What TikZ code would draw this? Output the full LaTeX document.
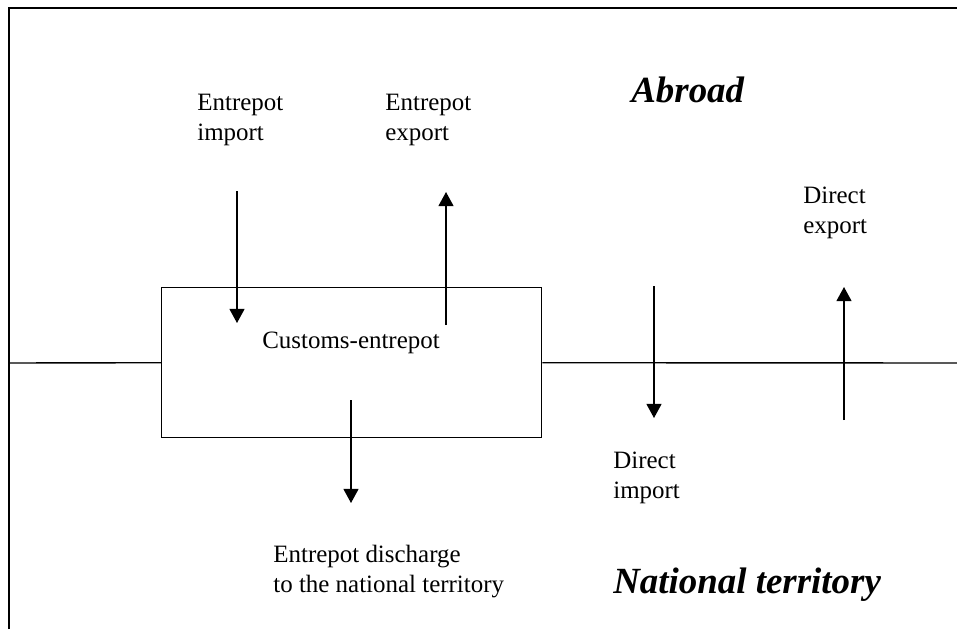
\documentclass[tikz,border=0pt]{standalone}
\usepackage{fontspec}
\setmainfont{Liberation Serif}
\usepackage{tikz}
\usetikzlibrary{arrows.meta}

\begin{document}
\begin{tikzpicture}[x=0.02cm,y=-0.02cm,
 every node/.style={inner sep=0pt,align=left,anchor=base west},
 lbl/.style={font=\fontsize{14.2pt}{17pt}\selectfont},
 region/.style={font=\fontsize{21pt}{25pt}\selectfont\bfseries\itshape},
 frame/.style={line width=1.1pt},
 edge/.style={line width=0.8pt},
 arr/.style={edge,-{Triangle[length=8pt,width=8.5pt]}}]
\useasboundingbox (0,0) rectangle (957,629);
% frame and border
\draw[frame] (9,629) -- (9,8) -- (957,8);
\node[draw,edge,anchor=north west,minimum width=380*0.02cm,minimum height=150*0.02cm] (ce) at (161,287) {};
\coordinate (bl) at (9,363);
\coordinate (br) at (957,363);
\draw[edge] (bl) -- (ce.west);
\draw[edge] (ce.east) -- (br);
% labels (base = last line)
\node[lbl] (cet) at (262,348) {Customs-entrepot};
\node[lbl] (ei) at (197,140) {Entrepot\\import};
\node[lbl] (ee) at (385,140) {Entrepot\\export};
\node[lbl] (de) at (803,233) {Direct\\export};
\node[lbl] (di) at (613,498) {Direct\\import};
\node[lbl] (ed) at (273,592) {Entrepot discharge\\to the national territory};
\node[region] (ab) at (631,102) {Abroad};
\node[region] (nt) at (613,593) {National territory};
% flows
\coordinate (ei1) at (237,191); \coordinate (ei2) at (237,323);
\coordinate (ee1) at (446,325); \coordinate (ee2) at (446,192);
\coordinate (ed1) at (351,400); \coordinate (ed2) at (351,503);
\coordinate (di1) at (654,286); \coordinate (di2) at (654,418);
\coordinate (de1) at (844,420); \coordinate (de2) at (844,287);
\draw[arr] (ei1) -- (ei2);
\draw[arr] (ee1) -- (ee2);
\draw[arr] (ed1) -- (ed2);
\draw[arr] (di1) -- (di2);
\draw[arr] (de1) -- (de2);
\end{tikzpicture}
\end{document}
